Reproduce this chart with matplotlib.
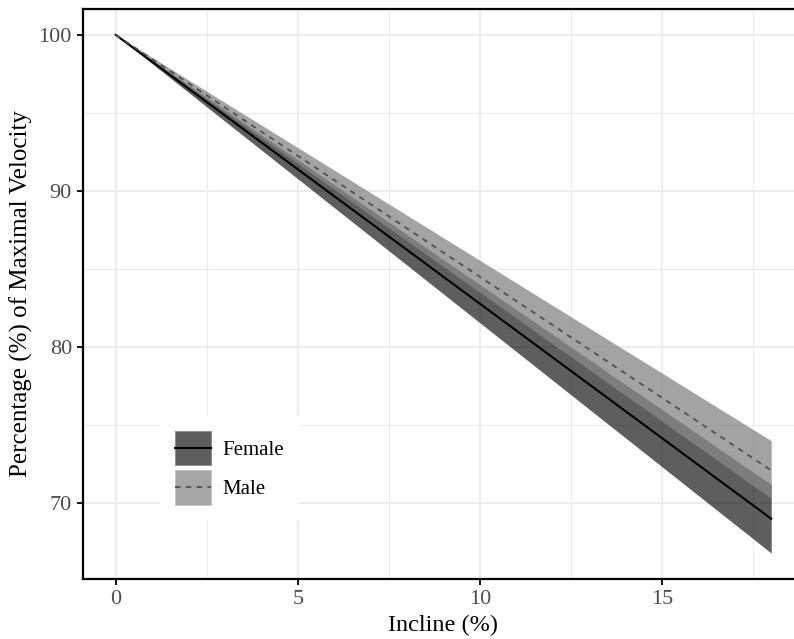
import matplotlib
matplotlib.use("Agg")
import matplotlib.pyplot as plt
from matplotlib.patches import Patch
from matplotlib.lines import Line2D
from matplotlib.legend_handler import HandlerLine2D

# values (straight lines from 100 % at 0 incline)
incline = [0, 18]
female_mean = [100, 69.0]
female_lo = [100, 66.8]
female_hi = [100, 71.2]
male_mean = [100, 72.1]
male_lo = [100, 70.3]
male_hi = [100, 74.0]

groups = ["Female", "Male"]
x_ticks = [0, 5, 10, 15]
y_ticks = [70, 80, 90, 100]

plt.rcParams['font.family'] = ['Liberation Serif', 'DejaVu Serif']


# put the legend line in the middle of the key box
class CenteredLine(HandlerLine2D):
    def create_artists(self, legend, orig_handle, xdescent, ydescent,
                       width, height, fontsize, trans):
        return super().create_artists(legend, orig_handle, xdescent, ydescent,
                                      width, height - ydescent, fontsize, trans)


W, H = 794, 639
fig = plt.figure(figsize=(W / 100, H / 100), dpi=100)
# panel runs a little past the right edge, as in the cropped original
ax = fig.add_axes([83 / W, (H - 579) / H, (804 - 83) / W, (579 - 9) / H])

female_col = (0, 0, 0, 0.63)
male_col = (0.53, 0.53, 0.53, 0.76)

ax.fill_between(incline, female_lo, female_hi, color=female_col, lw=0, zorder=2)
ax.fill_between(incline, male_lo, male_hi, color=male_col, lw=0, zorder=3)
ax.plot(incline, female_mean, color="black", lw=1.5, zorder=4)
ax.plot(incline, male_mean, color="#505050", lw=1.3, dashes=(3, 3), zorder=4)

ax.set_xlim(-0.9, 18.9)
ax.set_ylim(65.14, 101.66)
ax.set_xticks(x_ticks)
ax.set_yticks(y_ticks)
ax.set_xticks([2.5, 7.5, 12.5, 17.5], minor=True)
ax.set_yticks([75, 85, 95], minor=True)
ax.grid(which="major", color="#ebebeb", lw=1.3, zorder=0)
ax.grid(which="minor", color="#ebebeb", lw=0.8, zorder=0)
ax.set_axisbelow(True)

for s in ax.spines.values():
    s.set_linewidth(1.6)
    s.set_color("black")
ax.tick_params(which="major", direction="out", length=4, width=1.3,
               color="black", labelsize=16, labelcolor="#4d4d4d", pad=4)
ax.tick_params(which="minor", length=0)

ax.set_xlabel("Incline (%)", fontsize=17.5, labelpad=4)
ax.set_ylabel("Percentage (%) of Maximal Velocity", fontsize=18, labelpad=4)

handles = [
    (Patch(facecolor="#5e5e5e", edgecolor="#8a8a8a", lw=0.6),
     Line2D([], [], color="black", lw=1.5)),
    (Patch(facecolor="#a5a5a5", edgecolor="#c4c4c4", lw=0.6),
     Line2D([], [], color="#505050", lw=1.3, dashes=(3, 3))),
]
leg = ax.legend(handles, groups, loc="upper left",
                bbox_to_anchor=(160 / W, 1 - 416 / H),
                bbox_transform=fig.transFigure,
                handler_map={Line2D: CenteredLine()},
                fontsize=15, frameon=True, fancybox=False,
                facecolor="white", edgecolor="white", framealpha=1,
                handlelength=1.73, handleheight=2.2, labelspacing=0.2,
                handletextpad=0.55, borderpad=0.7, borderaxespad=0)
leg.set_zorder(5)

fig.savefig("out.png", dpi=100)
